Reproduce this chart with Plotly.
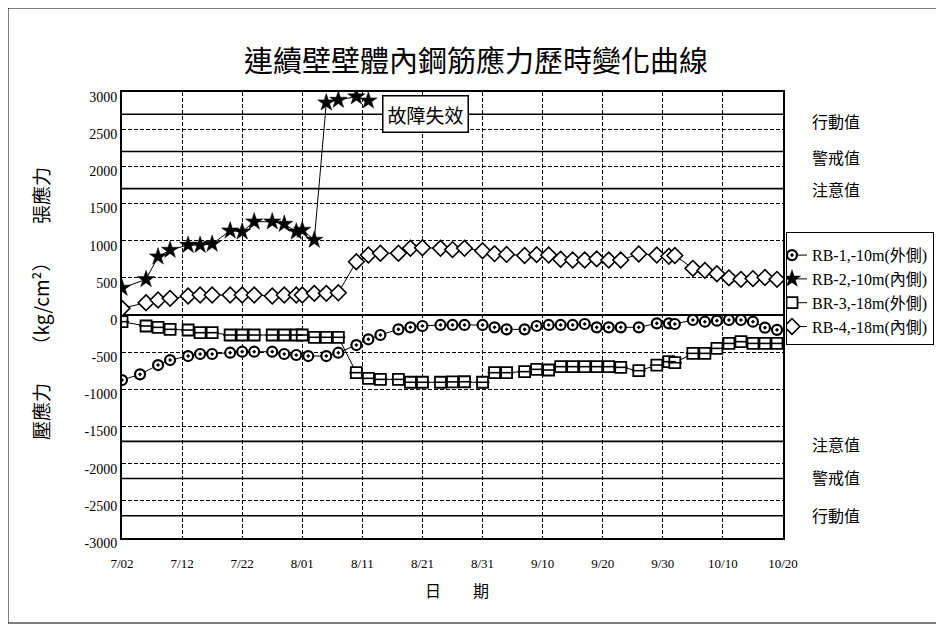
import plotly.graph_objects as go
import pandas as pd

YEAR = 2000

# ---------------- data ----------------
dates = ["7/02", "7/06", "7/08", "7/10", "7/13", "7/15", "7/17", "7/20", "7/22", "7/24",
         "7/27", "7/29", "7/31", "8/01", "8/03", "8/05", "8/07",
         "8/10", "8/12", "8/14", "8/17", "8/19", "8/21", "8/24", "8/26", "8/28", "8/31",
         "9/02", "9/04", "9/07", "9/09", "9/11", "9/13", "9/15", "9/17", "9/19", "9/21",
         "9/23", "9/26", "9/29", "10/01", "10/02", "10/05", "10/07", "10/09", "10/11",
         "10/13", "10/15", "10/17", "10/19"]

rb1_dates = ["7/02", "7/05", "7/08", "7/10", "7/13", "7/15", "7/17", "7/20", "7/22", "7/24",
             "7/27", "7/29", "7/31", "8/02", "8/05", "8/07"] + dates[17:]
rb1_vals = [-875, -798, -673, -606, -552, -525, -525, -507, -494, -494, -494, -525, -538, -552, -552, -507,
            -404, -327, -269, -193, -166, -148, -134, -134, -134, -134, -166, -193, -193, -148, -134,
            -134, -134, -121, -166, -166, -166, -166, -112, -112, -121, -67, -90, -76, -67, -67, -90,
            -170, -200]

rb2_dates = dates[:19]
rb2_vals = [363, 480, 784, 874, 941, 941, 955, 1134, 1120, 1255, 1255, 1224, 1120, 1143, 1009,
            2856, 2892, 2937, 2883]

br3_vals = [-90, -148, -166, -193, -202, -238, -238, -269, -269, -269, -269, -269, -269, -269, -300, -300, -300,
            -776, -852, -866, -866, -905, -905, -905, -900, -898, -905, -776, -776, -762, -731, -740,
            -695, -695, -695, -695, -695, -704, -749, -673, -628, -642, -516, -516, -449, -382, -359,
            -382, -382, -382]

rb4_vals = [90, 165, 202, 224, 255, 269, 269, 269, 269, 269, 255, 269, 269, 269, 291, 291, 300,
            717, 807, 830, 830, 898, 905, 898, 880, 898, 865, 825, 815, 800, 812, 807, 750, 740,
            740, 755, 740, 740, 820, 807, 790, 800, 628, 600, 555, 500, 480, 490, 505, 480]

series_names = ["RB-1,-10m(外側)", "RB-2,-10m(內側)", "BR-3,-18m(外側)", "RB-4,-18m(內側)"]

x_tick_dates = ["7/02", "7/12", "7/22", "8/01", "8/11", "8/21", "8/31", "9/10", "9/20", "9/30", "10/10", "10/20"]
x_tick_labels = ["7/02", "7/12", "7/22", "8/01", "8/11", "8/21", "8/31", "9/10", "9/20", "9/30", "10/10", "10/20"]
y_tick_vals = [3000, 2500, 2000, 1500, 1000, 500, 0, -500, -1000, -1500, -2000, -2500, -3000]
y_tick_labels = ["3000", "2500", "2000", "1500", "1000", "500", "0", "-500", "-1000", "-1500", "-2000", "-2500", "-3000"]

threshold_vals = [2700, 2200, 1700, -1700, -2200, -2700]
threshold_labels = ["行動值", "警戒值", "注意值", "注意值", "警戒值", "行動值"]

title_text = "連續壁壁體內鋼筋應力歷時變化曲線"
failure_text = "故障失效"
y_title = "壓應力　　（kg/cm²）　　張應力"
x_title = "日　　期"


def to_dt(s):
    m, d = s.split("/")
    return pd.Timestamp(YEAR, int(m), int(d))


def dts(lst):
    return [to_dt(s) for s in lst]


SERIF = "Liberation Serif, Noto Sans CJK TC, serif"
CJK = "Noto Sans CJK TC, sans-serif"

# page is offset by 8px; plot area in page px: x 122..783, y 92..538
OFF = 8
PL, PT, PW, PH = 122 - OFF, 92 - OFF, 661, 446


def px(X):  # page x -> paper x
    return (X - 122) / PW


def py(Y):  # page y -> paper y
    return (538 - Y) / PH


fig = go.Figure()

line_style = dict(color="black", width=1)

fig.add_trace(go.Scatter(
    x=dts(rb1_dates), y=rb1_vals, mode="lines+markers", name=series_names[0],
    line=line_style,
    marker=dict(symbol="circle-dot", size=10, color="white", line=dict(color="black", width=2.2))))

fig.add_trace(go.Scatter(
    x=dts(rb2_dates), y=rb2_vals, mode="lines+markers", name=series_names[1],
    line=line_style,
    marker=dict(symbol="star", size=13, color="black", line=dict(color="black", width=0.5))))

fig.add_trace(go.Scatter(
    x=dts(dates), y=br3_vals, mode="lines+markers", name=series_names[2],
    line=line_style, legendgroup="br3",
    marker=dict(symbol="square", size=11, color="white", line=dict(color="black", width=1.8))))
fig.add_trace(go.Scatter(
    x=dts(dates), y=br3_vals, mode="markers", showlegend=False, legendgroup="br3", hoverinfo="skip",
    marker=dict(symbol="line-ew", size=10, line=dict(color="black", width=1.6))))

fig.add_trace(go.Scatter(
    x=dts(dates), y=rb4_vals, mode="lines+markers", name=series_names[3],
    line=line_style,
    marker=dict(symbol="diamond", size=12, color="white", line=dict(color="black", width=1.6))))

shapes = []
for v in threshold_vals:
    shapes.append(dict(type="line", xref="paper", x0=0, x1=1, yref="y", y0=v, y1=v,
                       line=dict(color="black", width=1.6), layer="below"))
# outer frame
shapes.append(dict(type="rect", xref="paper", yref="paper",
                   x0=px(8), x1=px(960), y0=py(623), y1=py(8),
                   line=dict(color="black", width=1)))

annotations = []
label_offsets = [-90, -80, 0, -30, 20, 10]
for v, t, off in zip(threshold_vals, threshold_labels, label_offsets):
    annotations.append(dict(text=t, xref="paper", x=px(810), xanchor="left", yref="y", y=v + off,
                            yanchor="middle",
                            showarrow=False, font=dict(family=CJK, size=16, color="black")))

annotations.append(dict(text=failure_text, xref="x", yref="y",
                        x=to_dt("8/21") + pd.Timedelta(hours=12), y=2710,
                        xanchor="center", yanchor="middle",
                        showarrow=False, bgcolor="white", bordercolor="black", borderwidth=1.5,
                        borderpad=4, font=dict(family=CJK, size=19, color="black")))

annotations.append(dict(text=y_title, xref="paper", yref="paper",
                        x=px(40), y=py(304), textangle=-90, xanchor="center", yanchor="middle",
                        showarrow=False, font=dict(family=CJK, size=19, color="black")))

annotations.append(dict(text=x_title, xref="paper", yref="paper",
                        x=px(457), y=py(590), xanchor="center", yanchor="middle",
                        showarrow=False, font=dict(family=CJK, size=16, color="black")))

fig.update_layout(
    width=944, height=628,
    margin=dict(l=PL, r=944 - PL - PW, t=PT, b=628 - PT - PH, autoexpand=False),
    paper_bgcolor="white", plot_bgcolor="white",
    title=dict(text=title_text, x=(476 - OFF) / 944, xref="container", xanchor="center",
               y=1 - (62 - OFF) / 628, yref="container", yanchor="middle",
               font=dict(family=CJK, size=29, color="black")),
    shapes=shapes, annotations=annotations,
    showlegend=True,
    legend=dict(x=px(786), y=py(232), xanchor="left", yanchor="top",
                bordercolor="black", borderwidth=1, bgcolor="white",
                indentation=-15, tracegroupgap=0,
                title=dict(text=" ", font=dict(size=4)),
                font=dict(family=SERIF, size=16, color="black")),
    xaxis=dict(type="date", range=[to_dt("7/02"), to_dt("10/20")],
               tickvals=dts(x_tick_dates), ticktext=x_tick_labels,
               showgrid=True, gridcolor="black", gridwidth=1, griddash="4px,2px",
               showline=True, linecolor="black", linewidth=2, mirror=True,
               ticks="", ticklabelstandoff=12, zeroline=False,
               tickfont=dict(family=SERIF, size=13, color="black")),
    yaxis=dict(range=[-3000, 3000], tickvals=y_tick_vals, ticktext=y_tick_labels,
               showgrid=True, gridcolor="black", gridwidth=1, griddash="4px,2px",
               showline=True, linecolor="black", linewidth=2, mirror=True,
               zeroline=True, zerolinecolor="black", zerolinewidth=2.2,
               ticks="", ticklabelstandoff=0, ticklabelshift=5,
               tickfont=dict(family=SERIF, size=14, color="black")),
)

fig.write_html("out.html")
